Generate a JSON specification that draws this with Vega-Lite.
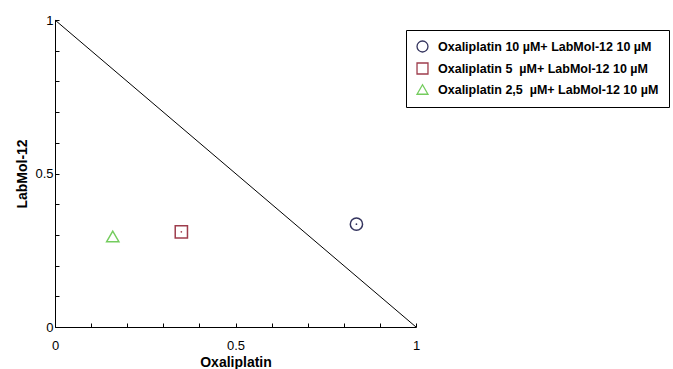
{
  "$schema": "https://vega.github.io/schema/vega-lite/v6.json",
  "width": 361,
  "height": 307,
  "autosize": "none",
  "padding": {"left": 55, "top": 20, "right": 257, "bottom": 42},
  "background": "white",
  "config": {
    "view": {"stroke": null},
    "font": "Liberation Sans",
    "axis": {
      "grid": false,
      "domainColor": "#000000",
      "domainWidth": 1,
      "tickColor": "#000000",
      "tickSize": -4,
      "labelColor": "#000000",
      "labelFontSize": 13,
      "labelFont": "Liberation Sans",
      "labelOverlap": false,
      "labelFlush": false,
      "titleFont": "Liberation Sans",
      "titleFontSize": 14,
      "titleFontWeight": "bold",
      "titleColor": "#000000"
    }
  },
  "datasets": {
    "pts": [
      {"oxaliplatin": 0.835, "labmol": 0.335, "combo": "Oxaliplatin 10 µM+ LabMol-12 10 µM", "dot": 1},
      {"oxaliplatin": 0.35, "labmol": 0.31, "combo": "Oxaliplatin 5 \u00a0µM+ LabMol-12 10 µM", "dot": 1},
      {"oxaliplatin": 0.16, "labmol": 0.295, "combo": "Oxaliplatin 2,5 \u00a0µM+ LabMol-12 10 µM", "dot": 0}
    ],
    "line": [
      {"oxaliplatin": 0, "labmol": 1},
      {"oxaliplatin": 1, "labmol": 0}
    ]
  },
  "resolve": {"legend": {"color": "independent", "shape": "independent"}},
  "layer": [
    {
      "data": {"name": "line"},
      "mark": {"type": "line", "color": "#000000", "strokeWidth": 1},
      "encoding": {
        "x": {
          "field": "oxaliplatin", "type": "quantitative",
          "scale": {"domain": [0, 1], "nice": false},
          "title": "Oxaliplatin",
          "axis": {
            "values": [0, 0.1, 0.2, 0.3, 0.4, 0.5, 0.6, 0.7, 0.8, 0.9, 1],
            "tickCount": 20,
            "labelExpr": "datum.value == 0 ? '0' : datum.value == 0.5 ? '0.5' : datum.value == 1 ? '1' : ''",
            "labelOverlap": false,
            "labelPadding": 16,
            "titlePadding": 3
          }
        },
        "y": {
          "field": "labmol", "type": "quantitative",
          "scale": {"domain": [0, 1], "nice": false},
          "title": "LabMol-12",
          "axis": {
            "values": [0, 0.1, 0.2, 0.3, 0.4, 0.5, 0.6, 0.7, 0.8, 0.9, 1],
            "tickCount": 20,
            "labelExpr": "datum.value == 0 ? '0' : datum.value == 0.5 ? '0.5' : datum.value == 1 ? '1' : ''",
            "labelOverlap": false,
            "labelPadding": 6,
            "titlePadding": 5
          }
        }
      }
    },
    {
      "data": {"name": "pts"},
      "mark": {"type": "point", "filled": false, "strokeWidth": 1.5, "size": 150, "opacity": 1},
      "encoding": {
        "x": {"field": "oxaliplatin", "type": "quantitative"},
        "y": {"field": "labmol", "type": "quantitative"},
        "color": {
          "field": "combo", "type": "nominal",
          "scale": {
            "domain": ["Oxaliplatin 10 µM+ LabMol-12 10 µM", "Oxaliplatin 5 \u00a0µM+ LabMol-12 10 µM", "Oxaliplatin 2,5 \u00a0µM+ LabMol-12 10 µM"],
            "range": ["#34345e", "#9e3d4c", "#74cc5e"]
          },
          "legend": {
            "title": null,
            "orient": "none",
            "legendX": 351,
            "legendY": 10,
            "strokeColor": "#000000",
            "padding": 10,
            "labelFontSize": 12.5,
            "labelFontWeight": "bold",
            "labelColor": "#000000",
            "symbolSize": 120,
            "symbolStrokeWidth": 1.3,
            "symbolFillColor": "transparent",
            "rowPadding": 5,
            "labelOffset": 9,
            "labelLimit": 300
          }
        },
        "shape": {
          "field": "combo", "type": "nominal",
          "scale": {
            "domain": ["Oxaliplatin 10 µM+ LabMol-12 10 µM", "Oxaliplatin 5 \u00a0µM+ LabMol-12 10 µM", "Oxaliplatin 2,5 \u00a0µM+ LabMol-12 10 µM"],
            "range": ["circle", "square", "triangle-up"]
          }
        }
      }
    },
    {
      "data": {"name": "pts"},
      "transform": [{"filter": "datum.dot == 1"}],
      "mark": {"type": "point", "filled": true, "shape": "circle", "size": 3, "opacity": 1},
      "encoding": {
        "x": {"field": "oxaliplatin", "type": "quantitative"},
        "y": {"field": "labmol", "type": "quantitative"},
        "color": {"field": "combo", "type": "nominal", "legend": null}
      }
    }
  ]
}
